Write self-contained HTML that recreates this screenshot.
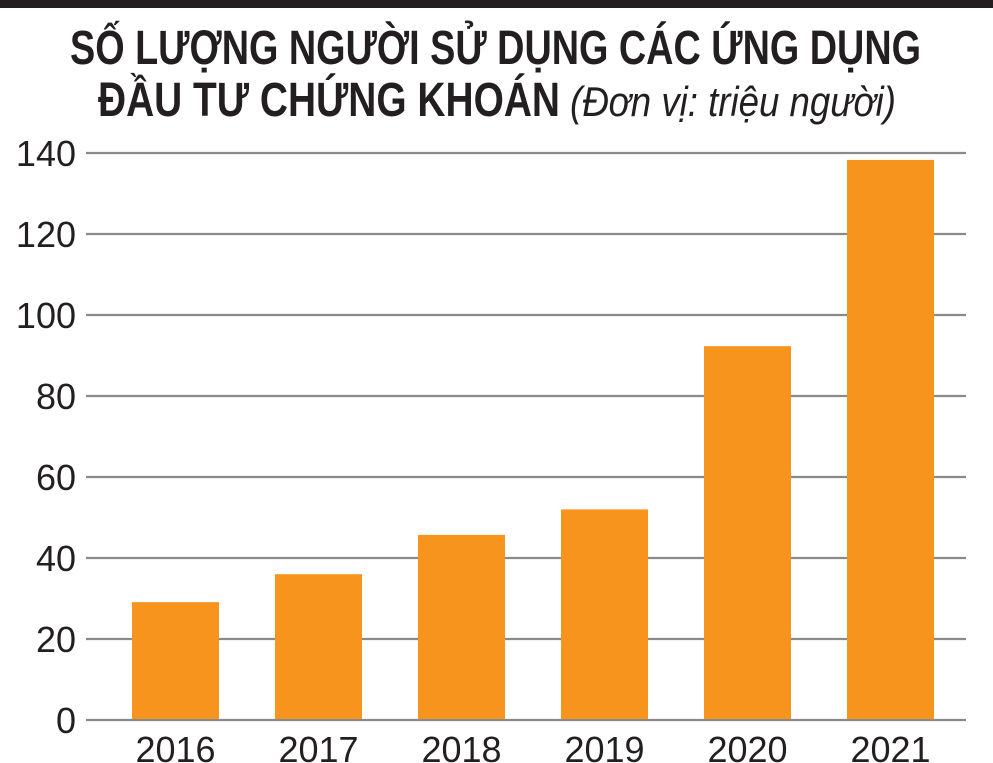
<!DOCTYPE html>
<html><head><meta charset="utf-8"><style>
body{margin:0;background:#fff;}
#wrap{position:relative;width:993px;height:763px;overflow:hidden;font-family:"Liberation Sans",sans-serif;color:#231f20;}
#topbar{position:absolute;left:0;top:0;width:993px;height:8px;background:#231f20;}
</style></head><body>
<div id="wrap">
<div id="topbar"></div>
<svg width="993" height="130" style="position:absolute;left:0;top:0">
<text x="70" y="64" textLength="851" lengthAdjust="spacingAndGlyphs" font-family="Liberation Sans, sans-serif" font-weight="bold" font-size="48" fill="#231f20">SỐ LƯỢNG NGƯỜI SỬ DỤNG CÁC ỨNG DỤNG</text>
<text x="98" y="116" textLength="462" lengthAdjust="spacingAndGlyphs" font-family="Liberation Sans, sans-serif" font-weight="bold" font-size="48" fill="#231f20">ĐẦU TƯ CHỨNG KHOÁN</text>
<text x="570" y="116" textLength="326" lengthAdjust="spacingAndGlyphs" font-family="Liberation Sans, sans-serif" font-style="italic" font-size="42" fill="#231f20">(Đơn vị: triệu người)</text>
</svg>
<svg id="svg" width="993" height="763" style="position:absolute;left:0;top:0"></svg>
</div>
<script>
const categories=["2016","2017","2018","2019","2020","2021"];
const values=[29.1,36,45.7,52,92.3,138.3];
const ticks=[0,20,40,60,80,100,120,140];
const svg=document.getElementById('svg');
const NS='http://www.w3.org/2000/svg';
const y=v=>720-v*4.05;
const x=i=>132+i*143;
const bw=87;
function mk(t,a){const e=document.createElementNS(NS,t);for(const k in a)e.setAttribute(k,a[k]);svg.appendChild(e);return e;}
ticks.forEach(t=>{
  const l=mk('line',{x1:86,x2:966,y1:y(t),y2:y(t),stroke:'#8a8a8a','stroke-width':2.2});
  
  
  const tx=mk('text',{x:76,y:y(t)+13,'text-anchor':'end','font-size':36,fill:'#231f20','font-family':'Liberation Sans, sans-serif'});
  tx.textContent=t;
  
  
});
values.forEach((v,i)=>{
  const r=mk('rect',{x:x(i),y:y(v),width:bw,height:720-y(v)-1,fill:'#f7941e'});
  
  
  const tx=mk('text',{x:x(i)+bw/2,y:762,'text-anchor':'middle','font-size':36,fill:'#231f20','font-family':'Liberation Sans, sans-serif'});
  tx.textContent=categories[i];
  
  
});
</script>
</body></html>
